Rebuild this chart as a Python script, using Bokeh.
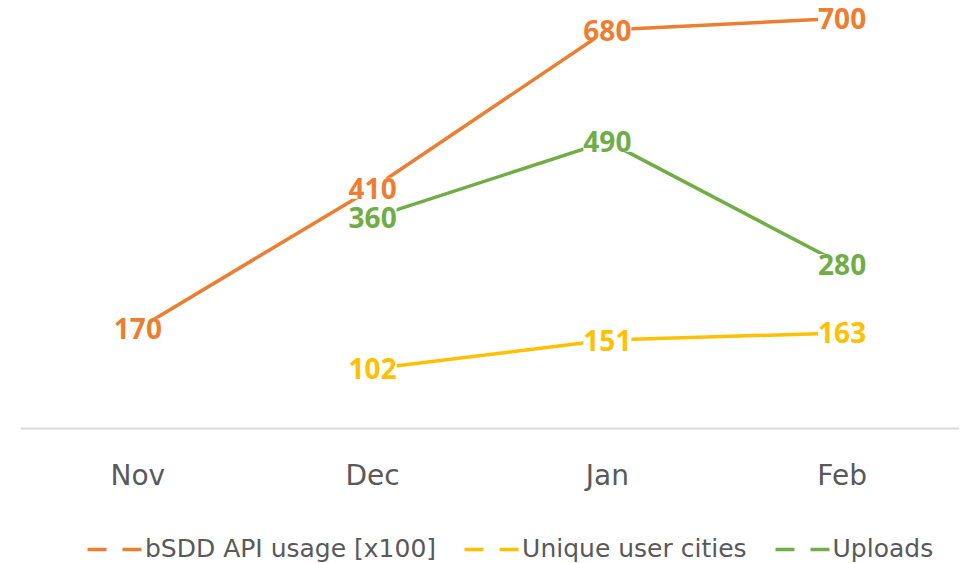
from bokeh.plotting import figure
from bokeh.models import ColumnDataSource, LabelSet, Range1d, Legend, LegendItem
from bokeh.core.properties import value
from bokeh.embed import file_html
from bokeh.resources import INLINE

months = ["Nov", "Dec", "Jan", "Feb"]
api_months = ["Nov", "Dec", "Jan", "Feb"]
api_usage = [170, 410, 680, 700]
cities_months = ["Dec", "Jan", "Feb"]
cities = [102, 151, 163]
uploads_months = ["Dec", "Jan", "Feb"]
uploads = [360, 490, 280]

series_names = ["bSDD API usage [x100]", "Unique user cities", "Uploads"]
colors = ["#ED7D31", "#FFC000", "#70AD47"]

p = figure(width=966, height=563, x_range=months, y_range=Range1d(-230.4, 730.4),
           output_backend="svg", toolbar_location=None,
           min_border_left=20, min_border_right=7, min_border_top=0,
           min_border_bottom=0)
p.outline_line_color = None
p.xgrid.visible = False
p.ygrid.visible = False
p.yaxis.visible = False
p.background_fill_color = "white"

ax = p.xaxis[0]
ax.fixed_location = 0
ax.axis_line_color = "#d9d9d9"
ax.axis_line_width = 2
ax.major_tick_line_color = None
ax.minor_tick_line_color = None
ax.major_label_standoff = 25
ax.major_label_text_font = "DejaVu Sans"
ax.major_label_text_font_size = "28px"
ax.major_label_text_color = "#595959"

data = [(api_months, api_usage), (cities_months, cities), (uploads_months, uploads)]
legend_items = []
for (xs, ys), name, c in zip(data, series_names, colors):
    src = ColumnDataSource(dict(x=xs, y=ys, t=[str(v) for v in ys]))
    p.line("x", "y", source=src, line_color=c, line_width=3.5)
    labels = LabelSet(x="x", y="y", text="t", source=src,
                      text_align="center", text_baseline="middle",
                      text_font=value("Open Sans"), text_font_style="bold",
                      text_font_size="28px", text_color=c,
                      background_fill_color="white", background_fill_alpha=1.0)
    p.add_layout(labels)
    dummy_src = ColumnDataSource(dict(x=[xs[0]], y=[float("nan")]))
    dummy = p.line("x", "y", source=dummy_src, line_color=c, line_width=3.5,
                   line_dash="19 16")
    legend_items.append(LegendItem(label=name, renderers=[dummy]))

legend = Legend(items=legend_items, orientation="horizontal",
                location=(67, 0), glyph_width=55, glyph_height=20,
                label_height=20, label_standoff=3, spacing=28,
                padding=0, margin=0, border_line_color=None,
                background_fill_alpha=0,
                label_text_font="DejaVu Sans", label_text_font_size="25px",
                label_text_color="#595959", label_text_baseline="middle")
p.add_layout(legend, "center")

open("out.html", "w").write(file_html(p, INLINE))
